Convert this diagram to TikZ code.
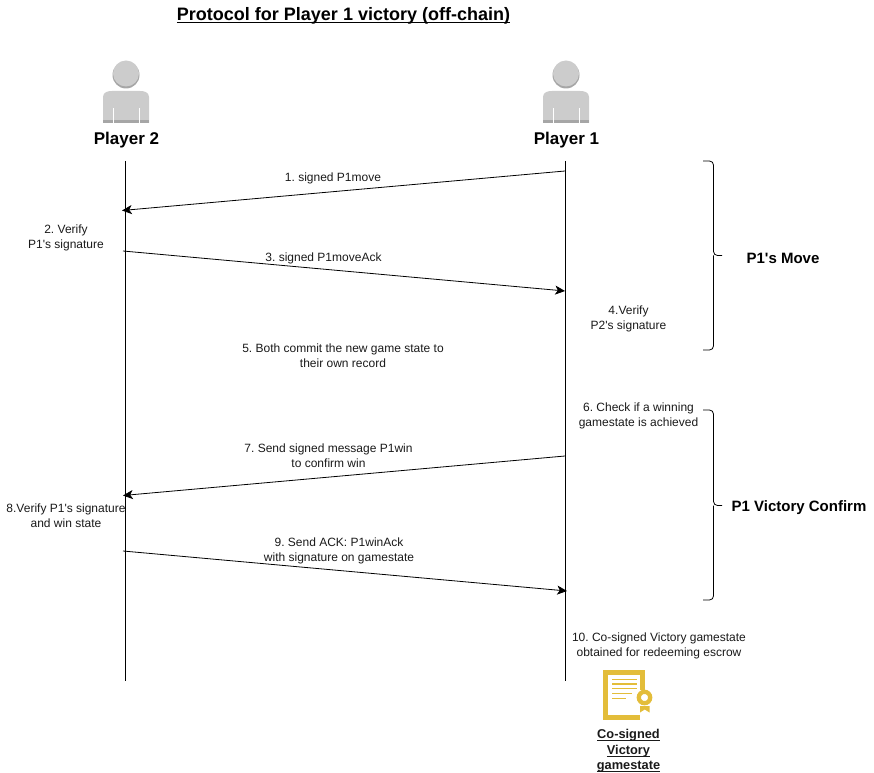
\documentclass[tikz,border=0pt]{standalone}
\usepackage{fontspec}
\setmainfont[Ligatures=TeXOff]{Liberation Sans}
\usepackage{xcolor}
\usepackage{tikz}
\usetikzlibrary{arrows.meta,positioning,calc}
\definecolor{persongray}{HTML}{CCCCCC}
\definecolor{persondark}{HTML}{A6A6A6}
\definecolor{certgold}{HTML}{E3BD3A}
\definecolor{labeltext}{HTML}{1A1A1A}
\newcommand{\lowline}[1]{\underline{\smash{#1}}}

\begin{document}
\frenchspacing
\begin{tikzpicture}[
  x=0.75pt, y=-0.75pt,
  note/.style={align=center, inner sep=0pt, font=\fontsize{9}{11.2}\selectfont, text=labeltext},
  actor/.style={inner sep=0pt, font=\fontsize{12.75}{15}\selectfont\bfseries},
  phase/.style={inner sep=0pt, font=\fontsize{11.25}{13}\selectfont\bfseries},
  lifeline/.style={line width=0.75pt},
  message/.style={-{Stealth[length=2.6mm,width=2.4mm,inset=0.7mm]}, line width=0.6pt},
  brace/.style={line width=0.6pt, rounded corners=3pt},
  person/.pic={
    \fill[persondark] (0,-1) circle (13.5);
    \fill[persongray] (0,-2.5) circle (13);
    \fill[persongray] (-23,47) -- (-23,21) .. controls (-23,16) and (-18,15) .. (-14,15)
      -- (14,15) .. controls (18,15) and (23,16) .. (23,21) -- (23,47) -- cycle;
    \fill[persondark] (-23,44.5) rectangle (23,47);
    \fill[white] (-13.5,32) rectangle (-12.5,47);
    \fill[white] (12.5,32) rectangle (13.5,47);
  }
]
  \useasboundingbox (0,0) rectangle (874,773);
  \node[inner sep=0pt, font=\fontsize{13.5}{16}\selectfont\bfseries] (title) at (343.5,21.5) {\lowline{Protocol for Player 1 victory (off-chain)}};

  % actors
  \pic at (126,76) {person};
  \pic at (566,76) {person};
  \node[actor] (playertwo) at (126.5,140) {Player 2};
  \node[actor] (playerone) at (566.5,140) {Player 1};

  % lifelines
  \coordinate (twotop) at (125.5,161);
  \coordinate (twoend) at (125.5,681);
  \coordinate (onetop) at (565.5,161);
  \coordinate (oneend) at (565.5,681);
  \draw[lifeline] (twotop) -- (twoend);
  \draw[lifeline] (onetop) -- (oneend);

  % messages
  \coordinate (sigfrom) at (565,171);
  \coordinate (sigto) at (122,210.5);
  \coordinate (ackfrom) at (123,251);
  \coordinate (ackto) at (565,291);
  \coordinate (winfrom) at (565,456);
  \coordinate (winto) at (123,495.5);
  \coordinate (winackfrom) at (123,551);
  \coordinate (winackto) at (567,591);
  \draw[message] (sigfrom) -- (sigto);
  \draw[message] (ackfrom) -- (ackto);
  \draw[message] (winfrom) -- (winto);
  \draw[message] (winackfrom) -- (winackto);

  \node[note] (signed) at (333,178) {1. signed P1move};
  \node[note] (verifyone) at (66,238) {2. Verify\\P1's signature};
  \node[note] (signedack) at (323.5,258.5) {3. signed P1moveAck};
  \node[note] (verifytwo) at (628.5,319) {4.Verify\\P2's signature};
  \node[note] (commit) at (343,356) {5. Both commit the new game state to\\their own record};
  \node[note] (check) at (638.5,416) {6. Check if a winning\\gamestate is achieved};
  \node[note] (sendwin) at (328.5,456) {7. Send signed message P1win\\to confirm win};
  \node[note] (verifywin) at (66,516) {8.Verify P1's signature\\and win state};
  \node[note] (sendack) at (339,551) {9. Send ACK: P1winAck\\with signature on gamestate};
  \node[note] (cosigned) at (659,646) {10. Co-signed Victory gamestate\\obtained for redeeming escrow};

  % braces
  \draw[brace] (703,161) -- (713.5,161) -- (713.5,255.5) -- (722,255.5);
  \draw[brace] (703,350) -- (713.5,350) -- (713.5,255.5);
  \draw[brace] (703,410) -- (713.5,410) -- (713.5,505.5) -- (722,505.5);
  \draw[brace] (703,600) -- (713.5,600) -- (713.5,505.5);
  \node[phase] (movelabel) at (783,258) {P1's Move};
  \node[phase] (victorylabel) at (799,507.5) {P1 Victory Confirm};

  % certificate
  \draw[certgold, line width=3.6pt] (640,717.5) -- (605.5,717.5) -- (605.5,672.5) -- (642.5,672.5) -- (642.5,690);
  \foreach \yy/\xx in {679.5/637, 684/637, 688.5/637, 693.5/632, 698.5/626}
    \draw[certgold, line width=1.4pt] (612,\yy) -- (\xx,\yy);
  \draw[certgold, line width=3.2pt] (644.5,697.5) circle (5.7);
  \fill[certgold] (640,706) -- (649.5,706) -- (649.5,712.5) -- (644.75,709.5) -- (640,712.5) -- cycle;
  \node[note, font=\fontsize{9.6}{11.6}\selectfont\bfseries] (gamestate) at (628.5,755.5) {\lowline{Co-signed}\\\lowline{Victory}\\\lowline{gamestate}};
\end{tikzpicture}
\end{document}
